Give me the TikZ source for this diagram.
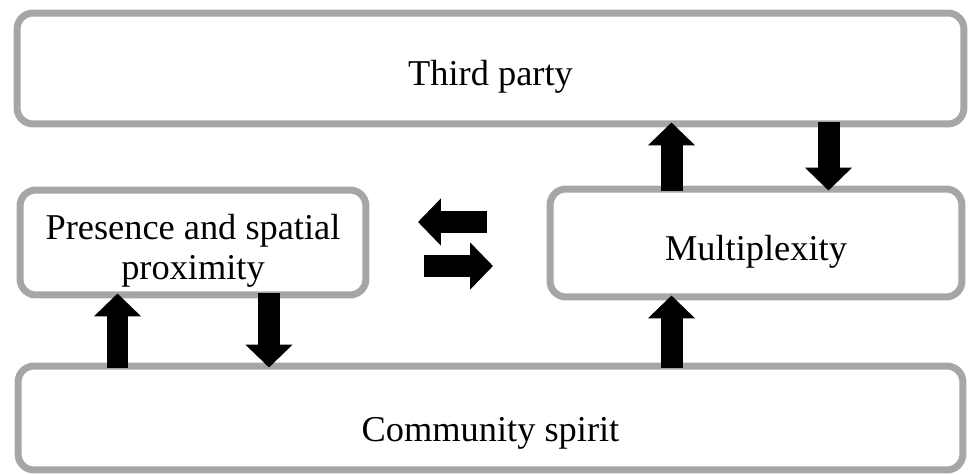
\documentclass[tikz,border=0pt]{standalone}
\usepackage{fontspec}
\setmainfont{Liberation Serif}
\usetikzlibrary{arrows.meta}
\definecolor{boxgray}{HTML}{A6A6A6}

\begin{document}
\begin{tikzpicture}[x=0.02cm, y=-0.02cm,
    box/.style={draw=boxgray, line width=0.14cm, rounded corners=0.32cm,
      inner sep=0pt, align=center, font=\fontsize{20.7}{23}\selectfont,
      text depth=0pt, text height=0.68cm},
    blockarrow/.style={line width=0.44cm, shorten >=-0.1cm, shorten <=-0.1cm,
      -{Triangle[width=0.92cm, length=0.46cm]}}]
  \useasboundingbox (0,0) rectangle (968,474);
  % boxes
  \node[box, minimum width=18.94cm, minimum height=2.22cm] (third) at (490.5,68.5) {Third party};
  \node[box, minimum width=6.92cm, minimum height=2.1cm, text height=1.48cm] (presence) at (193,242.5) {Presence and spatial\\proximity};
  \node[box, minimum width=8.24cm, minimum height=2.16cm] (multiplexity) at (756,243) {Multiplexity};
  \node[box, minimum width=18.9cm, minimum height=2.08cm, text height=0.92cm] (community) at (490.5,418) {Community spirit};
  % arrow positions
  \coordinate (xa) at (117.5,0);
  \coordinate (xb) at (269,0);
  \coordinate (xc) at (671.5,0);
  \coordinate (xd) at (828.5,0);
  \coordinate (la) at (487,222);
  \coordinate (lb) at (418,222);
  \coordinate (ra) at (424,266);
  \coordinate (rb) at (493,266);
  % arrows
  \draw[blockarrow] (community.north -| xa) -- (presence.south -| xa);
  \draw[blockarrow] (presence.south -| xb) -- (community.north -| xb);
  \draw[blockarrow] (community.north -| xc) -- (multiplexity.south -| xc);
  \draw[blockarrow] (multiplexity.north -| xc) -- (third.south -| xc);
  \draw[blockarrow] (third.south -| xd) -- (multiplexity.north -| xd);
  \draw[blockarrow, shorten >=0pt, shorten <=0pt] (la) -- (lb);
  \draw[blockarrow, shorten >=0pt, shorten <=0pt] (ra) -- (rb);
\end{tikzpicture}
\end{document}
